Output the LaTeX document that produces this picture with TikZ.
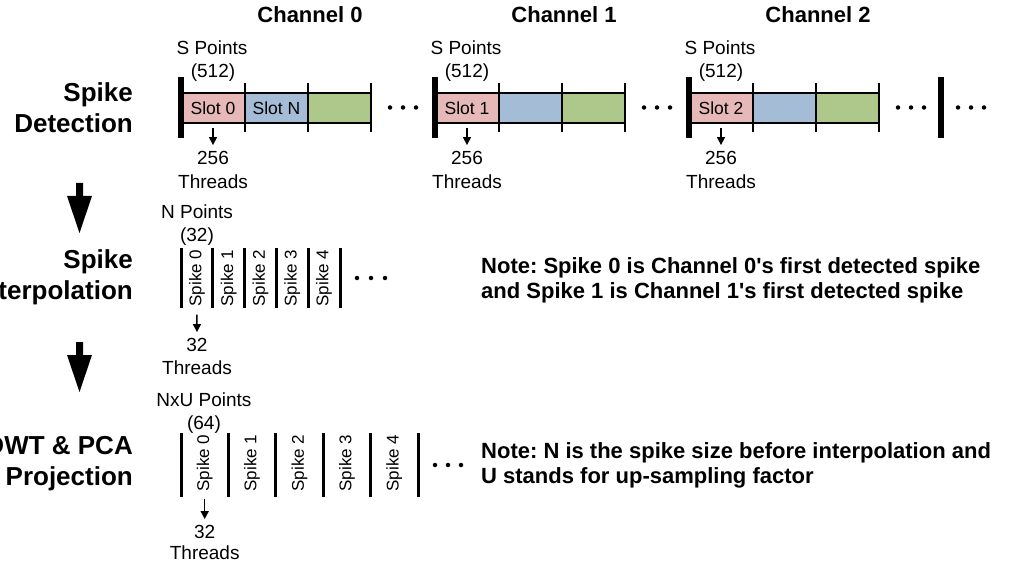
\documentclass[tikz,border=0pt]{standalone}
\usepackage{fontspec}
\setmainfont{Liberation Sans}
\usetikzlibrary{arrows.meta,calc}
\definecolor{slotpink}{HTML}{E6B9B8}
\definecolor{slotblue}{HTML}{A5BCD7}
\definecolor{slotgreen}{HTML}{AEC78B}
\frenchspacing

\begin{document}
\begin{tikzpicture}[x=1pt,y=-1pt,
  txt/.style={inner sep=0pt, font=\fontsize{19}{22}\selectfont},
  chan/.style={inner sep=0pt, font=\fontsize{22}{26}\selectfont\bfseries},
  stage/.style={inner sep=0pt, anchor=east, align=right, font=\fontsize{26}{31}\selectfont\bfseries},
  note/.style={inner sep=0pt, anchor=west, align=left, font=\fontsize{22}{25}\selectfont\bfseries},
  cell/.style={inner sep=0pt, minimum height=30pt, font=\fontsize{17.5}{20}\selectfont},
  spk/.style={inner sep=0pt, rotate=90, font=\fontsize{17}{20}\selectfont},
  bar/.style={line width=6pt},
  tick/.style={line width=2.5pt},
  sep/.style={line width=3pt},
  edge/.style={line width=2pt},
  thr/.style={line width=1.5pt, -{Triangle[width=8pt,length=8pt]}},
  dot/.style={circle, fill=black, inner sep=0pt, minimum size=4.5pt},
  bigarrow/.style={fill=black},
]
\useasboundingbox (0,0) rectangle (1014,569);
\clip (0,0) rectangle (1014,569);

% stage names on the left
\node[stage] (det) at (133,107.5) {Spike\\Detection};
\node[stage] (itp) at (133,277.5) {Spike\\Interpolation};
\node[stage] (prj) at (133,464) {DWT \& PCA\\Projection};

% arrows between the stages
\coordinate (A1) at (79.5,183);
\coordinate (A2) at (79.5,342);
\foreach \a in {A1,A2}
  \fill[bigarrow] ($(\a)+(-3.5,0)$) -- ($(\a)+(3.5,0)$) -- ($(\a)+(3.5,13)$)
    -- ($(\a)+(12.5,13)$) -- ($(\a)+(0,50)$) -- ($(\a)+(-12.5,13)$)
    -- ($(\a)+(-3.5,13)$) -- cycle;

% spike detection: one strip of slots per channel
\foreach \c in {0,1,2} {
  \pgfmathsetmacro{\o}{254*\c}
  \node[chan] (ch\c) at (\o+310,15) {Channel \c};
  \node[txt] (sp\c) at (\o+212,48) {S Points};
  \node[txt] (sn\c) at (\o+213,73) {(512)};
  \node[cell, fill=slotpink, minimum width=64pt] (pk\c) at (\o+213,108) {Slot \c};
  \node[cell, fill=slotblue, minimum width=63pt] (bl\c) at (\o+276.5,108) {\ifnum\c=0 Slot N\fi};
  \node[cell, fill=slotgreen, minimum width=63pt] (gr\c) at (\o+339.5,108) {};
  \draw[edge] (pk\c.north west) -- (gr\c.north east);
  \draw[edge] (pk\c.south west) -- (gr\c.south east);
  \foreach \b in {pk\c,bl\c,gr\c}
    \draw[tick] ([yshift=10pt]\b.north east) -- ([yshift=-9pt]\b.south east);
  \draw[bar] ([yshift=16pt]pk\c.north west) -- ([yshift=-15pt]pk\c.south west);
  \node[txt] (tn\c) at (\o+213,158) {256};
  \node[txt] (tt\c) at (\o+213,182) {Threads};
  \draw[thr] ([yshift=-5pt]pk\c.south) -- ([yshift=6pt]tn\c.north);
  \foreach \k in {0,1,2}
    \node[dot] (dd\c\k) at (\o+390+13*\k,107.5) {};
}
\coordinate (endtop) at (941,77);
\coordinate (endbot) at (941,138);
\draw[bar] (endtop) -- (endbot);
\foreach \k in {0,1,2}
  \node[dot] (de\k) at (958+13*\k,107.5) {};

% spike interpolation
\node[txt] (np) at (197,212) {N Points};
\node[txt] (nn) at (197,237) {(32)};
\foreach \k in {0,...,5} {
  \coordinate (iu\k) at (181+31.8*\k,248);
  \coordinate (id\k) at (181+31.8*\k,308);
  \draw[sep] (iu\k) -- (id\k);
}
\foreach \k in {0,...,4}
  \node[spk] (sa\k) at (196.9+31.8*\k,278) {Spike \k};
\foreach \k in {0,1,2}
  \node[dot] (di\k) at (357+14*\k,278) {};
\node[txt] (in2) at (197,345) {32};
\node[txt] (it2) at (197,368) {Threads};
\draw[thr] ([yshift=-8pt]sa0.west) -- ([yshift=6pt]in2.north);

% DWT and PCA projection
\node[txt] (up) at (204,400) {NxU Points};
\node[txt] (un) at (204,425) {(64)};
\foreach \k in {0,...,5} {
  \coordinate (pu\k) at (181+47.4*\k,433);
  \coordinate (pd\k) at (181+47.4*\k,497);
  \draw[sep] (pu\k) -- (pd\k);
}
\foreach \k in {0,...,4}
  \node[spk] (sb\k) at (204.7+47.4*\k,463) {Spike \k};
\foreach \k in {0,1,2}
  \node[dot] (dp\k) at (435+13*\k,465) {};
\node[txt] (pn3) at (204.7,532) {32};
\node[txt] (pt3) at (204.7,553) {Threads};
\draw[thr] ([yshift=-7pt]sb0.west) -- ([yshift=6pt]pn3.north);

% notes
\node[note] (n1) at (481,280.5) {Note: Spike 0 is Channel 0\textquotesingle s first detected spike\\and Spike 1 is Channel 1\textquotesingle s first detected spike};
\node[note] (n2) at (481,465.5) {Note: N is the spike size before interpolation and\\U stands for up-sampling factor};
\end{tikzpicture}
\end{document}
